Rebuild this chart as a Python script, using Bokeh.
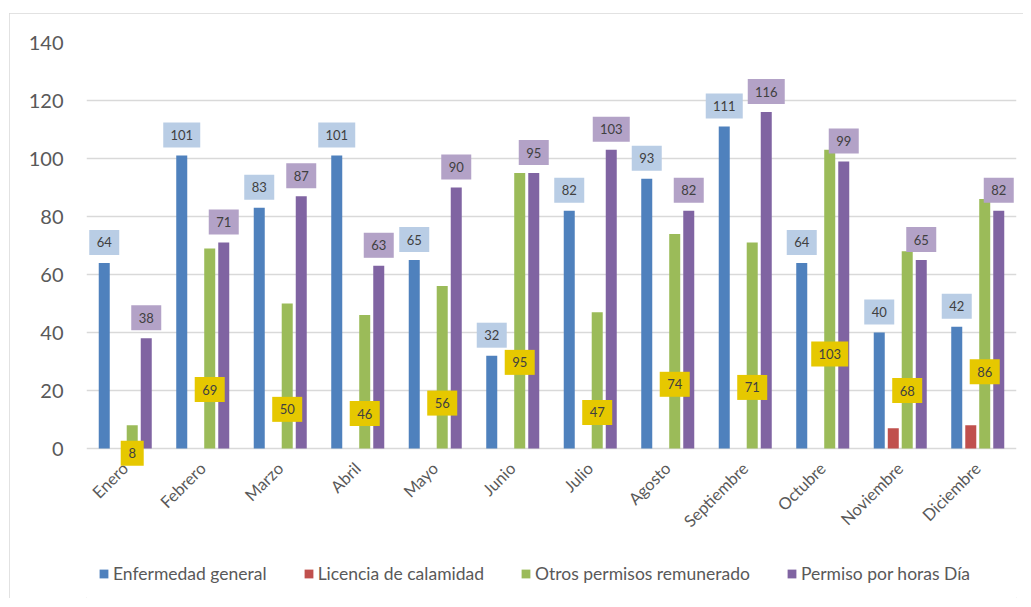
import math
from bokeh.plotting import figure
from bokeh.models import FactorRange, ColumnDataSource, Legend, LegendItem, FixedTicker
from bokeh.transform import dodge
from bokeh.core.properties import value
from bokeh.embed import file_html
from bokeh.resources import INLINE

months = ["Enero", "Febrero", "Marzo", "Abril", "Mayo", "Junio", "Julio",
          "Agosto", "Septiembre", "Octubre", "Noviembre", "Diciembre"]
enfermedad = [64, 101, 83, 101, 65, 32, 82, 93, 111, 64, 40, 42]
licencia = [0, 0, 0, 0, 0, 0, 0, 0, 0, 0, 7, 8]
otros = [8, 69, 50, 46, 56, 95, 47, 74, 71, 103, 68, 86]
permiso = [38, 71, 87, 63, 90, 95, 103, 82, 116, 99, 65, 82]
series_names = ["Enfermedad general", "Licencia de calamidad",
                "Otros permisos remunerado", "Permiso por horas Día"]
y_ticks = [0, 20, 40, 60, 80, 100, 120, 140]

colors = ["#4f81bd", "#c0504d", "#9bbb59", "#8064a2"]
FONT = "Lato"
TXT = "#595959"

PX_PER_UNIT = 2.9
FRAME_H = 556
Y1 = 140
Y0 = Y1 - FRAME_H / PX_PER_UNIT

p = figure(x_range=FactorRange(*months), y_range=(Y0, Y1),
           frame_width=930, frame_height=FRAME_H,
           output_backend="svg", toolbar_location=None,
           min_border_left=77, min_border_right=7, min_border_top=29,
           min_border_bottom=0)
p.styles = {"outline": "1px solid #d9d9d9", "outline-offset": "-1px",
            "margin-top": "13px", "margin-left": "9px"}
p.outline_line_color = None
p.background_fill_color = "white"
p.border_fill_color = "white"

src = ColumnDataSource(dict(month=months, enf=enfermedad, lic=licencia,
                            otr=otros, per=permiso))

offsets = [-0.271, -0.09, 0.09, 0.271]
keys = ["enf", "lic", "otr", "per"]
bar_w = 0.142
renderers = []
for k, off, c in zip(keys, offsets, colors):
    r = p.vbar(x=dodge("month", off, range=p.x_range), top=k, bottom=0,
               width=bar_w, source=src, fill_color=c, line_color=None)
    renderers.append(r)

# grid & axes
p.xgrid.grid_line_color = None
p.ygrid.grid_line_color = "#d9d9d9"
p.ygrid.grid_line_width = 1.5
p.yaxis.ticker = FixedTicker(ticks=y_ticks)
p.yaxis.axis_line_color = None
p.yaxis.major_tick_line_color = None
p.yaxis.minor_tick_line_color = None
p.yaxis.major_tick_out = 0
p.yaxis.major_tick_in = 0
p.yaxis.major_label_standoff = 23
p.yaxis.major_label_text_font = FONT
p.yaxis.major_label_text_font_size = "20px"
p.yaxis.major_label_text_color = TXT

p.xaxis.fixed_location = 0
p.xaxis.axis_line_color = None
p.xaxis.major_tick_line_color = None
p.xaxis.minor_tick_line_color = None
p.xaxis.major_tick_out = 0
p.xaxis.major_tick_in = 0
p.xaxis.major_label_orientation = math.pi / 4
p.xaxis.major_label_standoff = 17
p.xaxis.major_label_text_font = FONT
p.xaxis.major_label_text_font_size = "16.5px"
p.xaxis.major_label_text_color = TXT

# data labels
def add_labels(vals, off, fill, ys):
    d = dict(month=months, y=ys, txt=[str(v) for v in vals],
             w=[16 + 7 * len(str(v)) for v in vals])
    s = ColumnDataSource(d)
    p.rect(x=dodge("month", off, range=p.x_range), y="y", width="w", height=25,
           width_units="screen", height_units="screen", source=s,
           fill_color=fill, line_color=None)
    p.text(x=dodge("month", off, range=p.x_range), y="y", text="txt", source=s,
           text_align="center", text_baseline="middle",
           text_font=value(FONT), text_font_size="13px", text_color="#404040")

gap = (8 + 12.5) / PX_PER_UNIT
add_labels(enfermedad, offsets[0], "#b9cde5", [v + gap for v in enfermedad])
add_labels(permiso, offsets[3], "#b3a2c7", [v + gap for v in permiso])
add_labels(otros, offsets[2], "#e6c800", [0.36 * v - 4.5 for v in otros])

legend = Legend(items=[LegendItem(label=n, renderers=[r])
                       for n, r in zip(series_names, renderers)],
                orientation="horizontal", location=(12, 14))
legend.glyph_width = 11
legend.glyph_height = 11
legend.label_standoff = 4
legend.spacing = 36
legend.padding = 0
legend.margin = 0
legend.border_line_color = None
legend.background_fill_alpha = 0
legend.label_text_font = FONT
legend.label_text_font_size = "17.5px"
legend.label_text_color = TXT
legend.label_height = 20
p.add_layout(legend, "center")

open("out.html", "w").write(file_html(p, INLINE))
